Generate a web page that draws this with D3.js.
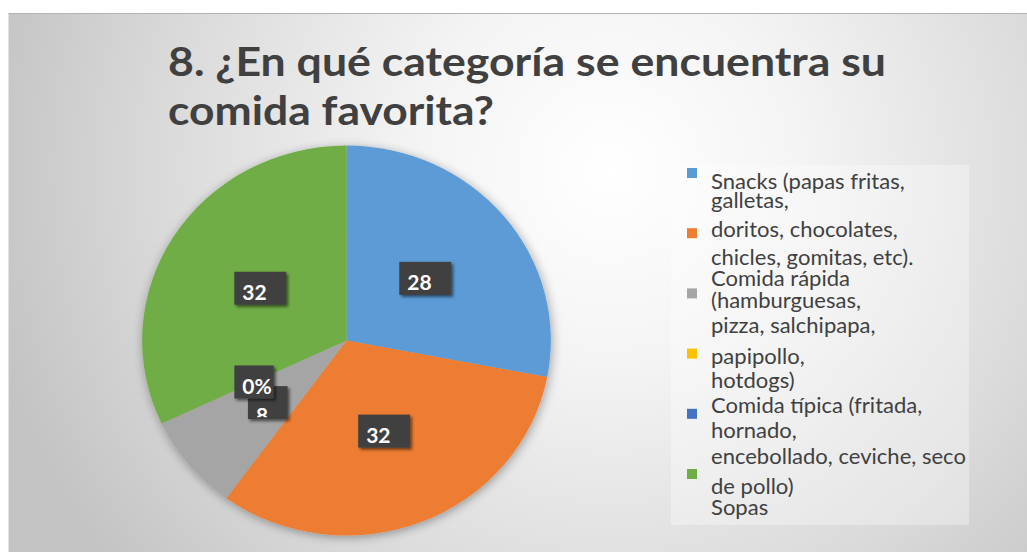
<!DOCTYPE html>
<html>
<head>
<meta charset="utf-8">
<script src="https://cdn.jsdelivr.net/npm/d3@7"></script>
<style>
  html, body { margin: 0; padding: 0; background: #ffffff; }
  svg { display: block; }
</style>
</head>
<body>
<svg id="chart" width="1027" height="552"></svg>
<script>
// ---- data ----
const titleLines = ["8. ¿En qué categoría se encuentra su", "comida favorita?"];

const categories = [
  "Snacks (papas fritas, galletas,",
  "doritos, chocolates, chicles, gomitas, etc).",
  "Comida rápida (hamburguesas, pizza, salchipapa,",
  "papipollo, hotdogs)",
  "Comida típica (fritada, hornado,",
  "encebollado, ceviche, seco de pollo) Sopas"
];

// legend text as it wraps in the legend box
const legendLines = [
  ["Snacks (papas fritas,", "galletas,"],
  ["doritos, chocolates,", "chicles, gomitas, etc)."],
  ["Comida rápida", "(hamburguesas,", "pizza, salchipapa,"],
  ["papipollo,", "hotdogs)"],
  ["Comida típica (fritada,", "hornado,"],
  ["encebollado, ceviche, seco", "de pollo)", "Sopas"]
];

const values = [28, 32, 8, 0, 0, 32];
const labelText = ["28", "32", "8", "", "0%", "32"];
const colors = ["#5b9bd5", "#ed7d31", "#a5a5a5", "#ffc000", "#4472c4", "#70ad47"];

// ---- layout ----
const W = 1027, H = 552;
const frame = { x: 8.5, y: 13 };
const CX = 346.5, CY = 340.5, R = 195, SX = 1.048;
const legendBox = { x: 671, y: 165, w: 298, h: 360 };
const legendMarkX = 687, legendTextX = 711, legendTextW = 255;
// baselines of the wrapped legend lines, per entry
const legendLineY = [
  [189, 208], [237, 265], [286, 308, 333], [364, 388], [413, 438], [464, 494, 515]
];
// the crowded small-slice label has its text pushed down inside its box
const labelTextDrop = [0, 0, 9, 0, 0, 0];

const svg = d3.select("#chart");
const defs = svg.append("defs");

// background: soft radial fill
const grad = defs.append("radialGradient")
  .attr("id", "bgGrad")
  .attr("gradientUnits", "userSpaceOnUse")
  .attr("cx", 610).attr("cy", 170).attr("r", 640)
  .attr("fx", 610).attr("fy", 170);
[[0, "#ffffff"], [0.3, "#f4f4f4"], [0.7, "#dadada"], [1, "#c3c3c3"]].forEach(([o, c]) =>
  grad.append("stop").attr("offset", o).attr("stop-color", c));

const pieShadow = defs.append("filter").attr("id", "pieShadow")
  .attr("x", "-20%").attr("y", "-20%").attr("width", "140%").attr("height", "140%");
pieShadow.append("feDropShadow").attr("dx", 1).attr("dy", 2).attr("stdDeviation", 5)
  .attr("flood-color", "#000").attr("flood-opacity", 0.35);

const boxShadow = defs.append("filter").attr("id", "boxShadow")
  .attr("x", "-30%").attr("y", "-30%").attr("width", "160%").attr("height", "160%");
boxShadow.append("feDropShadow").attr("dx", 2).attr("dy", 2).attr("stdDeviation", 1.5)
  .attr("flood-color", "#000").attr("flood-opacity", 0.55);

svg.append("rect")
  .attr("x", frame.x).attr("y", frame.y)
  .attr("width", W - frame.x).attr("height", H - frame.y)
  .attr("fill", "url(#bgGrad)");
svg.append("line")
  .attr("x1", frame.x).attr("x2", W).attr("y1", frame.y + 0.5).attr("y2", frame.y + 0.5)
  .attr("stroke", "#b3b3b3").attr("stroke-width", 1);

// ---- title ----
const titleG = svg.append("g")
  .attr("font-family", "Lato, 'Open Sans', sans-serif")
  .attr("font-weight", 700).attr("font-size", 40).attr("fill", "#404040");
const titleWidths = [718, 326];
const titleBase = [76, 125];
titleLines.forEach((t, i) => {
  titleG.append("text")
    .attr("x", 168).attr("y", titleBase[i])
    .attr("textLength", titleWidths[i]).attr("lengthAdjust", "spacingAndGlyphs")
    .text(t);
});

// ---- pie ----
const pie = d3.pie().sort(null).value(d => d);
const arcs = pie(values);
const arc = d3.arc().innerRadius(0).outerRadius(R);
const labelArc = d3.arc().innerRadius(R * 0.5).outerRadius(R * 0.5);

const pieG = svg.append("g")
  .attr("transform", `translate(${CX},${CY}) scale(${SX},1)`)
  .attr("filter", "url(#pieShadow)");
pieG.selectAll("path")
  .data(arcs)
  .join("path")
  .attr("d", arc)
  .attr("fill", (d, i) => colors[i]);

// ---- data labels ----
const labelG = svg.append("g")
  .attr("font-family", "Lato, 'Open Sans', sans-serif")
  .attr("font-weight", 700).attr("font-size", 21);
arcs.forEach((a, i) => {
  const txt = labelText[i];
  if (!txt) return;
  const [lx, ly] = labelArc.centroid(a);
  const bx = CX + lx * SX, by = CY + ly;
  const g = labelG.append("g");
  const rect = g.append("rect").attr("fill", "#404040").attr("filter", "url(#boxShadow)");
  const t = g.append("text").attr("fill", "#ffffff").text(txt);
  const tw = t.node().getComputedTextLength();
  const padL = 8, padR = txt.includes("%") ? 2 : 19.5;
  const bw = padL + tw + padR, bh = 33;
  const x0 = bx - bw / 2, y0 = by - bh / 2;
  rect.attr("x", x0).attr("y", y0).attr("width", bw).attr("height", bh);
  // text is clipped to its own box
  const clipId = "lblClip" + i;
  defs.append("clipPath").attr("id", clipId)
    .append("rect").attr("x", x0).attr("y", y0).attr("width", bw).attr("height", bh - 2);
  t.attr("x", x0 + padL).attr("y", y0 + bh - 5 + labelTextDrop[i])
    .attr("clip-path", `url(#${clipId})`);
});

// ---- legend ----
svg.append("rect")
  .attr("x", legendBox.x).attr("y", legendBox.y)
  .attr("width", legendBox.w).attr("height", legendBox.h)
  .attr("fill", "#ffffff").attr("fill-opacity", 0.32);

const legendG = svg.append("g");
const markStep = 60.2, markTop = 168;
categories.forEach((c, i) => {
  legendG.append("rect")
    .attr("x", legendMarkX).attr("y", markTop + i * markStep)
    .attr("width", 10).attr("height", 10)
    .attr("fill", colors[i]);
});

const legendText = legendG.append("g")
  .attr("font-family", "Lato, 'Open Sans', sans-serif")
  .attr("font-size", 21).attr("fill", "#404040");
legendLines.forEach((lines, i) => {
  lines.forEach((ln, j) => {
    legendText.append("text")
      .attr("x", 0).attr("y", legendLineY[i][j])
      .text(ln);
  });
});
// fit the widest line to the legend column
let maxW = 0;
legendText.selectAll("text").each(function () {
  maxW = Math.max(maxW, this.getComputedTextLength());
});
const sx = legendTextW / maxW;
legendText.attr("transform", `translate(${legendTextX},0) scale(${sx},1)`);
</script>
</body>
</html>
